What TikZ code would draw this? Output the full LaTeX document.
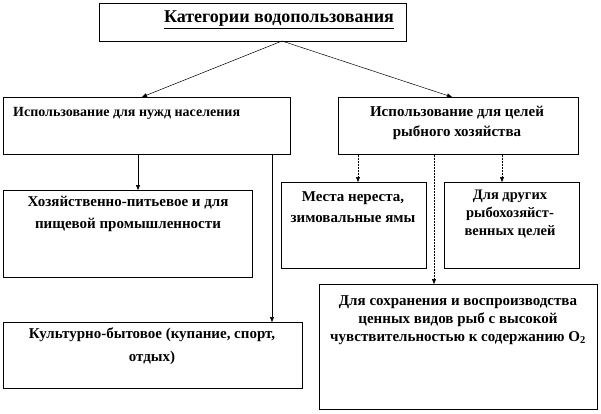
\documentclass[tikz,border=0pt]{standalone}
\usepackage{fontspec}
\setmainfont{Liberation Serif}
\usetikzlibrary{arrows.meta,calc}
\begin{document}
\begin{tikzpicture}[x=1pt,y=-1pt,
 box/.style={draw,line width=0.5pt,inner sep=0pt,anchor=north west},
 lbl/.style={font=\bfseries\fontsize{15}{20}\selectfont,align=center,inner sep=0pt},
 arr/.style={-{Triangle[length=5pt,width=4pt]},line width=0.5pt},
 darr/.style={arr,densely dotted}]
\useasboundingbox (0,0) rectangle (601,413);
\node[box,minimum width=307pt,minimum height=38pt] (title) at (99,3) {};
\node[box,minimum width=287pt,minimum height=57pt] (nasel) at (3,97) {};
\node[box,minimum width=240pt,minimum height=57pt] (ryb) at (338,97) {};
\node[box,minimum width=249pt,minimum height=87pt] (hoz) at (3,190) {};
\node[box,minimum width=145pt,minimum height=86pt] (mesta) at (281,182) {};
\node[box,minimum width=135pt,minimum height=86pt] (drug) at (444,182) {};
\node[box,minimum width=278pt,minimum height=125pt] (sohr) at (319,284) {};
\node[box,minimum width=299pt,minimum height=66pt] (kult) at (3,322) {};

\node[lbl,font=\bfseries\fontsize{18}{20}\selectfont] (ttitle) at (279,20) {\underline{Категории водопользования}};
\node[lbl,anchor=west,font=\bfseries\fontsize{14}{16}\selectfont] (tnasel) at (13,113) {Использование для нужд населения};
\node[lbl] (tryb) at (457,123) {Использование для целей\\рыбного хозяйства};
\node[lbl,font=\bfseries\fontsize{15}{22}\selectfont] (thoz) at (128,214) {Хозяйственно-питьевое и для\\пищевой промышленности};
\node[lbl,font=\bfseries\fontsize{15}{21}\selectfont] (tmesta) at (353,207.5) {Места нереста,\\зимовальные ямы};
\node[lbl,font=\bfseries\fontsize{14.5}{18}\selectfont] (tdrug) at (510,214.5) {Для других\\рыбохозяйст-\\венных целей};
\node[lbl,font=\bfseries\fontsize{15}{18}\selectfont] (tsohr) at (458,320) {Для сохранения и воспроизводства\\ценных видов рыб с высокой\\чувствительностью к содержанию O\textsubscript{2}};
\node[lbl,font=\bfseries\fontsize{15}{23}\selectfont] (tkult) at (152,346.5) {Культурно-бытовое (купание, спорт,\\отдых)};

\coordinate (apex) at (282,41);
\draw[arr] (apex) -- ($(nasel.north west)+(139,0)$);
\draw[arr] (apex) -- ($(ryb.north west)+(114,0)$);
\draw[arr] ($(nasel.south west)+(135,0)$) -- ($(hoz.north west)+(135,0)$);
\draw[arr] ($(nasel.south west)+(269,0)$) -- ($(kult.north west)+(269,0)$);
\draw[darr] ($(ryb.south west)+(20,0)$) -- ($(mesta.north west)+(77,0)$);
\draw[darr] ($(ryb.south west)+(164,0)$) -- ($(drug.north west)+(58,0)$);
\draw[darr] ($(ryb.south west)+(96,0)$) -- ($(sohr.north west)+(115,0)$);
\end{tikzpicture}
\end{document}
